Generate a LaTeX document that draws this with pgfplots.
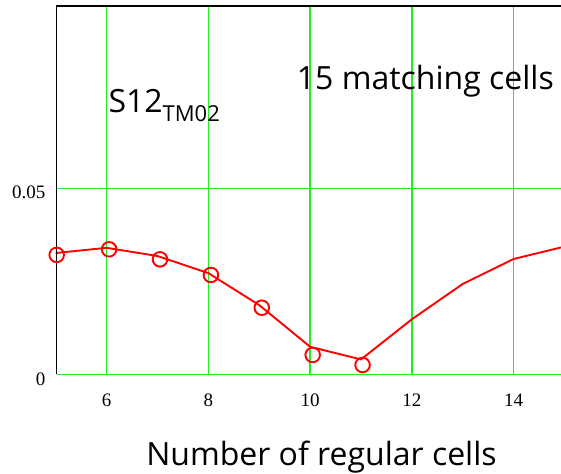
\documentclass[border=0pt]{standalone}
\usepackage{pgfplots}
\pgfplotsset{compat=1.18}
\usepackage{fontspec}
\setmainfont{Liberation Serif}
\newfontfamily\labelfont{Open Sans}

\definecolor{gridgreen}{RGB}{40,235,40}
\definecolor{curvered}{RGB}{255,0,0}

\begin{document}
\begin{tikzpicture}
\begin{axis}[
  scale only axis,
  width=504.3pt, height=368.3pt,
  xmin=5.02, xmax=14.93,
  ymin=0, ymax=0.099,
  xtick={6,8,10,12,14},
  ytick={0,0.05},
  yticklabels={0,0.05},
  scaled y ticks=false,
  major tick length=0pt,
  axis line style={draw=none},
  xmajorgrids, ymajorgrids,
  grid style={gridgreen, line width=1.3pt},
  tick label style={font=\fontsize{19}{19}\selectfont},
  /pgf/number format/assume math mode=true,
  yticklabel style={anchor=east, inner sep=0pt, xshift=-11pt, yshift=-4.5pt},
  xticklabel style={anchor=north, inner sep=0pt, yshift=-19pt},
  clip=false,
]
% simulated curve
\addplot[curvered, line width=1.9pt] coordinates {
  (5,0.0326) (6,0.0340) (7,0.0318) (8,0.0272) (9,0.0186) (10,0.0074)
  (11,0.0040) (12,0.0148) (13,0.0243) (14,0.0310) (14.93,0.0341)
};
% measured points
\addplot[only marks, mark=o, mark size=7.3pt, curvered,
  mark options={line width=1.9pt}] coordinates {
  (5.02,0.0321) (6.05,0.0336) (7.05,0.0309) (8.05,0.0267) (9.05,0.0179)
  (10.05,0.0052) (11.03,0.0025)
};
% frame: left and top edges
\draw[black, line width=1.3pt] (rel axis cs:0,0) -- (rel axis cs:0,1) -- (rel axis cs:1,1);
\end{axis}
\node[anchor=base west, inner sep=0pt, font=\labelfont\fontsize{32}{32}\selectfont]
  at (51.6pt,262pt) {S12\raisebox{-9.4pt}{\fontsize{22}{22}\selectfont TM02}};
\node[anchor=base west, inner sep=0pt, font=\labelfont\fontsize{32}{32}\selectfont]
  at (240pt,284.3pt) {15 matching cells};
\node[anchor=base, inner sep=0pt, font=\labelfont\fontsize{32}{32}\selectfont]
  at (264.8pt,-90.7pt) {Number of regular cells};
\pgfresetboundingbox
\useasboundingbox (-56.7pt,-98.7pt) rectangle (504.3pt,374.3pt);
\end{tikzpicture}
\end{document}
